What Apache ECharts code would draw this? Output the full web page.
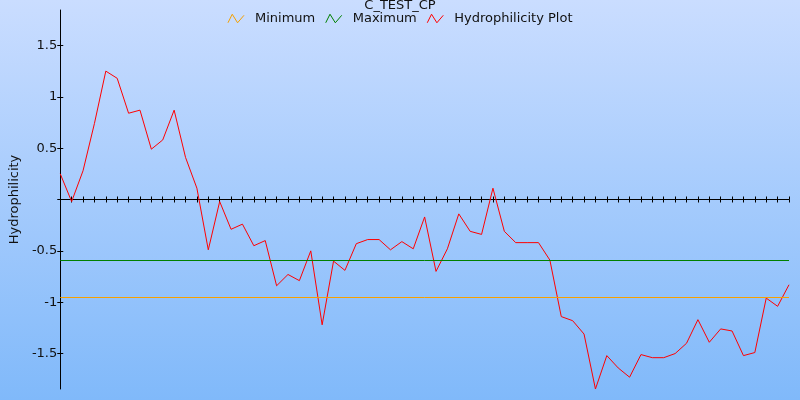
<!DOCTYPE html>
<html>
<head>
<meta charset="utf-8">
<script src="https://cdn.jsdelivr.net/npm/echarts@6/dist/echarts.min.js"></script>
<style>html,body{margin:0;padding:0;}#chart{width:800px;height:400px;}</style>
</head>
<body>
<div id="chart"></div>
<script>
const titleText = 'C_TEST_CP';
const yAxisName = 'Hydrophilicity';
const categories = ['1','2','3','4','5','6','7','8','9','10','11','12','13','14','15','16','17','18','19','20',
  '21','22','23','24','25','26','27','28','29','30','31','32','33','34','35','36','37','38','39','40',
  '41','42','43','44','45','46','47','48','49','50','51','52','53','54','55','56','57','58','59','60',
  '61','62','63','64','65'];
const hydrophilicity = [0.25, -0.02, 0.28, 0.74, 1.25, 1.18, 0.84, 0.87, 0.49, 0.58,
  0.87, 0.41, 0.11, -0.49, -0.02, -0.29, -0.24, -0.45, -0.40, -0.84,
  -0.73, -0.79, -0.50, -1.22, -0.60, -0.69, -0.43, -0.39, -0.39, -0.49,
  -0.41, -0.48, -0.17, -0.70, -0.48, -0.14, -0.31, -0.34, 0.11, -0.31,
  -0.42, -0.42, -0.42, -0.59, -1.14, -1.18, -1.31, -1.845, -1.52, -1.64,
  -1.73, -1.51, -1.54, -1.54, -1.50, -1.40, -1.17, -1.39, -1.26, -1.28,
  -1.52, -1.49, -0.96, -1.04, -0.83];
const minimumValue = -0.954;
const maximumValue = -0.59;
const yMin = -1.845;
const yMax = 1.845;
const yLabelValues = [-1.5, -1, -0.5, 0.5, 1, 1.5];
const yTickValues = [-1.5, -1, -0.5, 0, 0.5, 1, 1.5];
const seriesNames = ['Minimum', 'Maximum', 'Hydrophilicity Plot'];
const seriesColors = ['#F5A000', '#008000', '#FF0000'];

const zigzag = 'path://M0,8 L4,0 L9,8 L15,1';
const chart = echarts.init(document.getElementById('chart'));
const font = 'DejaVu Sans';
const axisCommonY = {
  type: 'value', min: yMin, max: yMax, position: 'left', splitLine: {show: false}
};
chart.setOption({
  animation: false,
  backgroundColor: {
    type: 'linear', x: 0, y: 0, x2: 0, y2: 1,
    colorStops: [{offset: 0, color: '#CADDFF'}, {offset: 1, color: '#80B9FA'}]
  },
  textStyle: {fontFamily: font},
  title: {
    text: titleText, left: 'center', top: -6,
    textStyle: {fontFamily: font, fontSize: 13, fontWeight: 'normal', color: '#111'}
  },
  legend: {
    top: 7, left: 'center', itemGap: 10, itemWidth: 16, itemHeight: 9,
    textStyle: {fontFamily: font, fontSize: 13, color: '#111', padding: [0, 0, 0, 6]},
    data: seriesNames.map((n, i) => ({
      name: n, icon: zigzag,
      itemStyle: {color: 'rgba(0,0,0,0)', borderColor: seriesColors[i], borderWidth: 1}
    }))
  },
  grid: {left: 59, right: 11, top: 10, bottom: 11, containLabel: false},
  xAxis: [{
    type: 'category', data: categories, boundaryGap: false,
    axisLine: {onZero: true, lineStyle: {color: '#000', width: 1}},
    axisTick: {show: true, interval: 0, length: 3, lineStyle: {color: '#000'}},
    axisLabel: {show: false}, splitLine: {show: false}
  }, {
    type: 'category', data: categories, boundaryGap: false, position: 'bottom',
    axisLine: {onZero: true, onZeroAxisIndex: 1, lineStyle: {color: 'rgba(0,0,0,0)', width: 0}},
    axisTick: {show: true, inside: true, interval: 0, length: 3, lineStyle: {color: '#000'}},
    axisLabel: {show: false}, splitLine: {show: false}
  }],
  yAxis: [Object.assign({}, axisCommonY, {
    name: yAxisName, nameLocation: 'middle', nameGap: 36, nameRotate: 90,
    nameTextStyle: {fontFamily: font, fontSize: 13, color: '#111'},
    axisLine: {show: true, lineStyle: {color: '#000', width: 1}},
    axisTick: {show: true, length: 3, customValues: yTickValues, lineStyle: {color: '#000'}},
    axisLabel: {show: true, margin: 3, customValues: yLabelValues, fontFamily: font, fontSize: 13, color: '#111'}
  }), Object.assign({}, axisCommonY, {
    axisLine: {show: false},
    axisTick: {show: true, inside: true, length: 3, customValues: yTickValues, lineStyle: {color: '#000'}},
    axisLabel: {show: false}
  })],
  series: [{
    name: seriesNames[0], type: 'line', data: [], color: seriesColors[0],
    markLine: {silent: true, symbol: 'none', label: {show: false},
      lineStyle: {color: seriesColors[0], width: 1, type: 'solid', opacity: 1},
      data: [{yAxis: minimumValue}]}
  }, {
    name: seriesNames[1], type: 'line', data: [], color: seriesColors[1],
    markLine: {silent: true, symbol: 'none', label: {show: false},
      lineStyle: {color: seriesColors[1], width: 1, type: 'solid', opacity: 1},
      data: [{yAxis: maximumValue}]}
  }, {
    name: seriesNames[2], type: 'line', data: hydrophilicity, color: seriesColors[2],
    showSymbol: false, symbol: 'none', lineStyle: {color: seriesColors[2], width: 1}
  }]
});
</script>
</body>
</html>
